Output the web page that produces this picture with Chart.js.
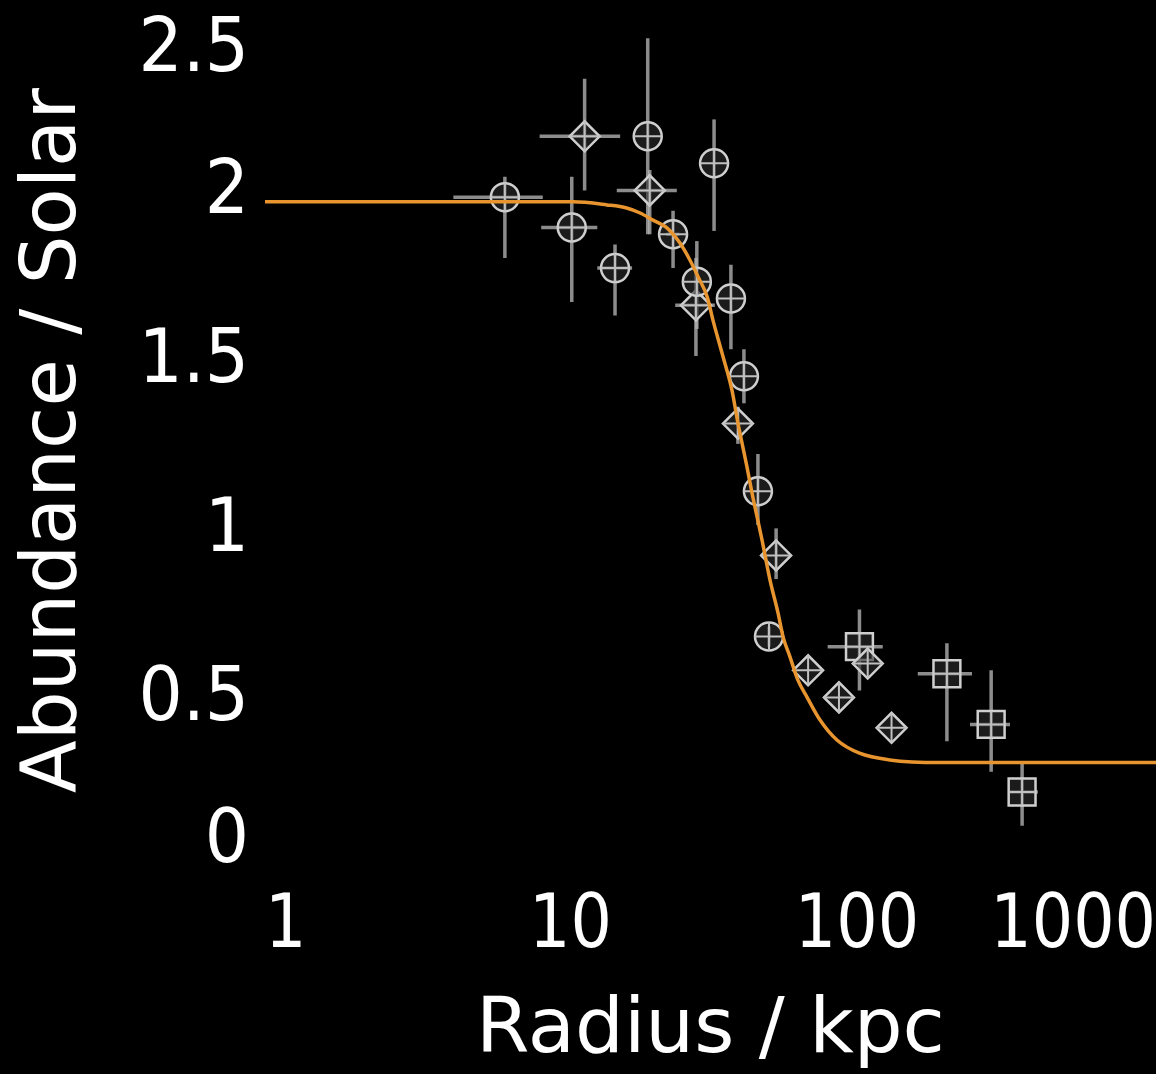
<!DOCTYPE html>
<html>
<head>
<meta charset="utf-8">
<title>Abundance profile</title>
<script src="https://cdn.jsdelivr.net/npm/chart.js@4.4.0/dist/chart.umd.min.js"></script>
<style>
  html, body { margin: 0; padding: 0; background: #000; }
  #wrap { width: 1156px; height: 1074px; }
</style>
</head>
<body>
<div id="wrap"><canvas id="abundance_chart" width="1156" height="1074"></canvas></div>
<script>
// tick labels
var xTicks = [1, 10, 100, 1000];
var yTicks = [0, 0.5, 1, 1.5, 2, 2.5];

// fitted profile
var fitR = [0.858, 2.54, 5.67, 10.2, 13.4, 15.7, 17.5, 19.4, 21.7, 24.1, 26.1, 27.9, 30.0, 31.4,
            34.1, 36.6, 38.4, 41.3, 43.0, 46.6, 49.7, 53.0, 55.2, 58.4, 62.2, 66.9, 74.3, 85.1,
            102, 130, 195, 316, 1106];
var fitA = [1.956, 1.956, 1.956, 1.956, 1.947, 1.938, 1.923, 1.902, 1.879, 1.834, 1.784, 1.734, 1.675, 1.607,
            1.497, 1.399, 1.302, 1.172, 1.095, 0.956, 0.837, 0.740, 0.669, 0.609, 0.541, 0.491, 0.423, 0.364,
            0.325, 0.305, 0.297, 0.297, 0.297];

// circles
var circR   = [5.9, 10.1, 14.3, 18.6, 22.8, 27.6, 31.7, 36.3, 40.3, 45.1, 49.3];
var circA   = [1.97, 1.88, 1.76, 2.15, 1.86, 1.72, 2.07, 1.67, 1.44, 1.10, 0.67];
var circRLo = [3.9, 7.9, 12.4, null, 21.6, null, null, null, null, null, null];
var circRHi = [8.0, 12.4, 16.4, null, 24.0, null, null, null, null, null, null];
var circALo = [1.79, 1.66, 1.62, 1.86, 1.76, 1.58, 1.87, 1.52, 1.36, 1.00, 0.64];
var circAHi = [2.03, 2.03, 1.83, 2.44, 1.93, 1.84, 2.20, 1.77, 1.52, 1.21, 0.70];

// diamonds
var diaR   = [11.2, 18.9, 27.4, 38.4, 52.2, 67.5, 86.5, 109, 132];
var diaA   = [2.15, 1.99, 1.65, 1.30, 0.91, 0.57, 0.49, 0.59, 0.40];
var diaRLo = [7.8, 14.5, 23.2, null, null, null, null, null, null];
var diaRHi = [14.9, 23.5, 31.9, null, null, null, null, null, null];
var diaALo = [1.99, 1.86, 1.50, 1.24, 0.84, null, null, null, null];
var diaAHi = [2.32, 2.05, 1.79, 1.35, 0.99, null, null, null, null];

// squares
var sqR   = [102, 206, 294, 377];
var sqA   = [0.64, 0.56, 0.41, 0.21];
var sqRLo = [79, 163, 248, 337];
var sqRHi = [123, 252, 342, 428];
var sqALo = [0.51, 0.36, 0.27, 0.11];
var sqAHi = [0.75, 0.65, 0.57, 0.30];

var fontFamily = '"DejaVu Sans", "Liberation Sans", sans-serif';

function toPoints(xs, ys) {
  return xs.map((x, i) => ({x: x, y: ys[i]}));
}

// error bars sit under the markers
const errorBars = {
  id: 'errorBars',
  beforeDatasetsDraw(chart) {
    const ctx = chart.ctx;
    const xs = chart.scales.x, ys = chart.scales.y;
    ctx.save();
    ctx.strokeStyle = 'rgba(175,175,175,0.8)';
    ctx.lineWidth = 3.5;
    chart.data.datasets.forEach((ds) => {
      if (!ds.errors) return;
      const e = ds.errors;
      e.r.forEach((r, i) => {
        const px = xs.getPixelForValue(r);
        const py = ys.getPixelForValue(e.a[i]);
        ctx.beginPath();
        if (e.rLo[i] != null) {
          ctx.moveTo(xs.getPixelForValue(e.rLo[i]), py);
          ctx.lineTo(xs.getPixelForValue(e.rHi[i]), py);
        }
        if (e.aLo[i] != null) {
          ctx.moveTo(px, ys.getPixelForValue(e.aLo[i]));
          ctx.lineTo(px, ys.getPixelForValue(e.aHi[i]));
        }
        ctx.stroke();
      });
    });
    ctx.restore();
  },
  // little plus inside every marker
  afterDatasetDraw(chart, args) {
    const ds = chart.data.datasets[args.index];
    if (!ds.crossSize) return;
    const ctx = chart.ctx;
    ctx.save();
    ctx.strokeStyle = '#c0c0c0';
    ctx.lineWidth = 2;
    args.meta.data.forEach((pt) => {
      ctx.beginPath();
      ctx.moveTo(pt.x - ds.crossSize, pt.y);
      ctx.lineTo(pt.x + ds.crossSize, pt.y);
      ctx.moveTo(pt.x, pt.y - ds.crossSize);
      ctx.lineTo(pt.x, pt.y + ds.crossSize);
      ctx.stroke();
    });
    ctx.restore();
  }
};

// tick labels, pulled inside the plot edges
function drawSqueezed(ctx, text, x, y, sx) {
  ctx.save();
  ctx.translate(x, y);
  ctx.scale(sx, 1);
  ctx.fillText(text, 0, 0);
  ctx.restore();
}

const tickLabels = {
  id: 'tickLabels',
  afterDraw(chart) {
    const ctx = chart.ctx;
    const xs = chart.scales.x, ys = chart.scales.y;
    const area = chart.chartArea;
    ctx.save();
    ctx.fillStyle = '#ffffff';
    ctx.font = '74px ' + fontFamily;
    ctx.textBaseline = 'alphabetic';
    ctx.textAlign = 'left';
    xTicks.forEach((v) => {
      const label = String(v);
      const w = ctx.measureText(label).width * 0.88;
      let left = xs.getPixelForValue(v) - w / 2;
      left = Math.max(area.left, Math.min(left, area.right - w));
      drawSqueezed(ctx, label, left, 947, 0.88);
    });
    ctx.textAlign = 'right';
    yTicks.forEach((v) => {
      let base = ys.getPixelForValue(v) + 26;
      base = Math.max(area.top + 53, Math.min(base, area.bottom - 1));
      drawSqueezed(ctx, String(v), 249, base, 0.94);
    });
    ctx.restore();
  }
};

var markerStroke = '#cfcfcf';
var markerFill = 'rgba(45,45,45,0.6)';

var ctx = document.getElementById('abundance_chart');
var abundanceChart = new Chart(ctx, {
  type: 'scatter',
  data: {
    datasets: [
      {
        label: 'Fit',
        data: toPoints(fitR, fitA),
        showLine: true,
        borderColor: '#e8952f',
        borderWidth: 3.5,
        pointRadius: 0,
        cubicInterpolationMode: 'monotone',
        order: 0
      },
      {
        label: 'Circles',
        data: toPoints(circR, circA),
        pointStyle: 'circle',
        pointRadius: 14,
        borderColor: markerStroke,
        backgroundColor: markerFill,
        borderWidth: 2.5,
        crossSize: 14,
        errors: {r: circR, a: circA, rLo: circRLo, rHi: circRHi, aLo: circALo, aHi: circAHi},
        order: 1
      },
      {
        label: 'Diamonds',
        data: toPoints(diaR, diaA),
        pointStyle: 'rectRot',
        pointRadius: 15,
        borderColor: markerStroke,
        backgroundColor: markerFill,
        borderWidth: 2.5,
        crossSize: 15,
        errors: {r: diaR, a: diaA, rLo: diaRLo, rHi: diaRHi, aLo: diaALo, aHi: diaAHi},
        order: 1
      },
      {
        label: 'Squares',
        data: toPoints(sqR, sqA),
        pointStyle: 'rect',
        pointRadius: 19,
        borderColor: markerStroke,
        backgroundColor: markerFill,
        borderWidth: 2.5,
        crossSize: 13,
        errors: {r: sqR, a: sqA, rLo: sqRLo, rHi: sqRHi, aLo: sqALo, aHi: sqAHi},
        order: 1
      }
    ]
  },
  options: {
    responsive: false,
    animation: false,
    devicePixelRatio: 1,
    layout: { autoPadding: false, padding: { top: 18, left: 0, right: 0, bottom: 0 } },
    plugins: {
      legend: { display: false },
      tooltip: { enabled: false }
    },
    scales: {
      x: {
        type: 'logarithmic',
        min: 0.858,
        max: 1106,
        grid: { display: false },
        border: { display: false },
        ticks: { display: false },
        title: {
          display: true,
          text: 'Radius / kpc',
          color: '#ffffff',
          font: { family: fontFamily, size: 77, lineHeight: 1.1 },
          padding: { top: 0, bottom: 0 }
        },
        afterFit: function(scale) { scale.height = 211; }
      },
      y: {
        type: 'linear',
        min: 0,
        max: 2.5,
        grid: { display: false },
        border: { display: false },
        ticks: { display: false },
        title: {
          display: true,
          text: 'Abundance / Solar',
          color: '#ffffff',
          font: { family: fontFamily, size: 77, lineHeight: 1.1 },
          padding: { top: 13, bottom: 0 }
        },
        afterFit: function(scale) { scale.width = 265; }
      }
    }
  },
  plugins: [errorBars, tickLabels]
});
</script>
</body>
</html>
